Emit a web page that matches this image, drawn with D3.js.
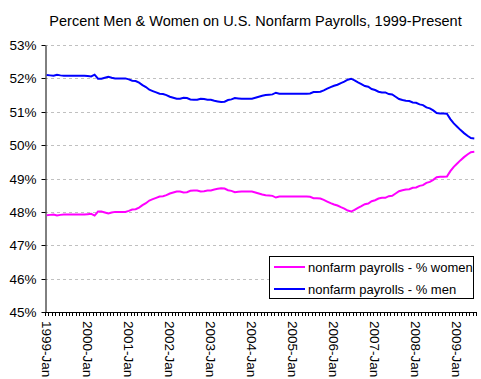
<!DOCTYPE html>
<html>
<head>
<meta charset="utf-8">
<script src="https://cdn.jsdelivr.net/npm/d3@7"></script>
<style>
  body { margin: 0; background: #fff; }
  svg { display: block; font-family: Arial, "Liberation Sans", sans-serif; }
</style>
</head>
<body>
<svg id="chart" width="481" height="379"></svg>
<script>
const title = "Percent Men & Women on U.S. Nonfarm Payrolls, 1999-Present";
const years = [1999, 2000, 2001, 2002, 2003, 2004, 2005, 2006, 2007, 2008, 2009];
const monthNames = ["Jan","Feb","Mar","Apr","May","Jun","Jul","Aug","Sep","Oct","Nov","Dec"];
const lastYearMonths = 6; // data through 2009-Jun
const yTicks = [45, 46, 47, 48, 49, 50, 51, 52, 53];
const xTickLabels = ["1999-Jan","2000-Jan","2001-Jan","2002-Jan","2003-Jan","2004-Jan","2005-Jan","2006-Jan","2007-Jan","2008-Jan","2009-Jan"];
const seriesNames = ["nonfarm payrolls - % women", "nonfarm payrolls - % men"];

const menPct = [
  52.10, 52.09, 52.08, 52.11, 52.09, 52.08, 52.08, 52.08, 52.08, 52.08, 52.08, 52.08,
  52.07, 52.06, 52.11, 51.99, 51.99, 52.02, 52.05, 52.02, 52.00, 52.00, 52.00, 52.00,
  51.97, 51.93, 51.92, 51.87, 51.80, 51.74, 51.66, 51.62, 51.58, 51.54, 51.53, 51.50,
  51.45, 51.42, 51.39, 51.39, 51.42, 51.41, 51.37, 51.36, 51.36, 51.39, 51.38, 51.36,
  51.36, 51.33, 51.31, 51.29, 51.30, 51.35, 51.37, 51.41, 51.40, 51.39, 51.39, 51.39,
  51.39, 51.42, 51.45, 51.48, 51.50, 51.51, 51.52, 51.57, 51.54, 51.54, 51.54, 51.54,
  51.54, 51.54, 51.54, 51.54, 51.54, 51.55, 51.59, 51.59, 51.60, 51.64, 51.69, 51.74,
  51.78, 51.81, 51.86, 51.90, 51.96, 51.99, 51.94, 51.88, 51.83, 51.77, 51.75, 51.68,
  51.65, 51.60, 51.58, 51.58, 51.53, 51.52, 51.45, 51.38, 51.35, 51.33, 51.32, 51.28,
  51.27, 51.22, 51.20, 51.13, 51.10, 51.04, 50.96, 50.95, 50.95, 50.94, 50.78, 50.65,
  50.55, 50.45, 50.36, 50.28, 50.21, 50.20
];
const womenPct = [
  47.90, 47.91, 47.92, 47.89, 47.91, 47.92, 47.92, 47.92, 47.92, 47.92, 47.92, 47.92,
  47.93, 47.94, 47.89, 48.01, 48.01, 47.98, 47.95, 47.98, 48.00, 48.00, 48.00, 48.00,
  48.03, 48.07, 48.08, 48.13, 48.20, 48.26, 48.34, 48.38, 48.42, 48.46, 48.47, 48.50,
  48.55, 48.58, 48.61, 48.61, 48.58, 48.59, 48.63, 48.64, 48.64, 48.61, 48.62, 48.64,
  48.64, 48.67, 48.69, 48.71, 48.70, 48.65, 48.63, 48.59, 48.60, 48.61, 48.61, 48.61,
  48.61, 48.58, 48.55, 48.52, 48.50, 48.49, 48.48, 48.43, 48.46, 48.46, 48.46, 48.46,
  48.46, 48.46, 48.46, 48.46, 48.46, 48.45, 48.41, 48.41, 48.40, 48.36, 48.31, 48.26,
  48.22, 48.19, 48.14, 48.10, 48.04, 48.01, 48.06, 48.12, 48.17, 48.23, 48.25, 48.32,
  48.35, 48.40, 48.42, 48.42, 48.47, 48.48, 48.55, 48.62, 48.65, 48.67, 48.68, 48.72,
  48.73, 48.78, 48.80, 48.87, 48.90, 48.96, 49.04, 49.05, 49.05, 49.06, 49.22, 49.35,
  49.45, 49.55, 49.64, 49.72, 49.79, 49.80
];

// categories
const categories = [];
years.forEach((yr, yi) => {
  const n = yi === years.length - 1 ? lastYearMonths : 12;
  for (let m = 0; m < n; m++) categories.push(yr + "-" + monthNames[m]);
});

const svg = d3.select("#chart");
const plotLeft = 45, plotRight = 476, plotTop = 45, plotBottom = 312;

const x = d3.scaleBand().domain(categories).range([plotLeft, plotRight]).padding(0);
const y = d3.scaleLinear().domain([45, 53]).range([plotBottom, plotTop]);

// title
svg.append("text")
  .attr("x", 255.5).attr("y", 26)
  .attr("text-anchor", "middle")
  .attr("font-size", "14.5px")
  .attr("fill", "#000")
  .text(title);

// gridlines
svg.append("g").selectAll("line")
  .data(yTicks.filter(d => d > 45))
  .join("line")
  .attr("x1", plotLeft).attr("x2", plotRight)
  .attr("y1", d => Math.round(y(d)) + 0.5).attr("y2", d => Math.round(y(d)) + 0.5)
  .attr("stroke", "#c0c0c0")
  .attr("stroke-width", 1)
  .attr("stroke-dasharray", "3,3");

// y axis
const yAxis = d3.axisLeft(y).tickValues(yTicks).tickFormat(d => d + "%").tickSize(4).tickSizeOuter(0);
const gy = svg.append("g").attr("transform", `translate(${plotLeft + 0.5},0)`).call(yAxis);
gy.selectAll("text").attr("font-size", "13.5px").attr("font-family", "Arial, 'Liberation Sans', sans-serif").attr("fill", "#000").attr("x", -9);
gy.selectAll("line,path").attr("stroke", "#000");
gy.selectAll(".tick").attr("transform", d => `translate(0,${Math.round(y(d)) + 0.5})`);

// x axis line and ticks (at category boundaries)
const gx = svg.append("g");
gx.append("line")
  .attr("x1", plotLeft).attr("x2", plotRight)
  .attr("y1", plotBottom + 0.5).attr("y2", plotBottom + 0.5)
  .attr("stroke", "#000");
const boundaries = categories.map(c => x(c)).concat([x(categories[categories.length - 1]) + x.bandwidth()]);
gx.selectAll("line.tk")
  .data(boundaries)
  .join("line")
  .attr("class", "tk")
  .attr("x1", d => Math.round(d) + 0.5).attr("x2", d => Math.round(d) + 0.5)
  .attr("y1", plotBottom).attr("y2", plotBottom + 4)
  .attr("stroke", "#000");
gx.selectAll("text")
  .data(xTickLabels)
  .join("text")
  .attr("transform", d => `translate(${x(d) + x.bandwidth() / 2},${321}) rotate(90)`)
  .attr("dy", "0.35em")
  .attr("text-anchor", "start")
  .attr("font-size", "13.5px")
  .attr("fill", "#000")
  .text(d => d);

// lines
const line = d3.line()
  .x((d, i) => x(categories[i]) + x.bandwidth() / 2)
  .y(d => y(d));

svg.append("path")
  .datum(womenPct)
  .attr("d", line)
  .attr("fill", "none")
  .attr("stroke", "#ff00ff")
  .attr("stroke-width", 2);

svg.append("path")
  .datum(menPct)
  .attr("d", line)
  .attr("fill", "none")
  .attr("stroke", "#0000ff")
  .attr("stroke-width", 2);

// legend
const lg = svg.append("g");
lg.append("rect")
  .attr("x", 269.5).attr("y", 256.5)
  .attr("width", 204).attr("height", 42)
  .attr("fill", "#fff").attr("stroke", "#000").attr("stroke-width", 1);
const legendColors = ["#ff00ff", "#0000ff"];
seriesNames.forEach((name, i) => {
  const ly = 267 + i * 22;
  lg.append("line")
    .attr("x1", 274).attr("x2", 305)
    .attr("y1", ly).attr("y2", ly)
    .attr("stroke", legendColors[i]).attr("stroke-width", 2);
  lg.append("text")
    .attr("x", 308).attr("y", ly)
    .attr("dy", "0.35em")
    .attr("font-size", "13px")
    .attr("fill", "#000")
    .text(name);
});
</script>
</body>
</html>
